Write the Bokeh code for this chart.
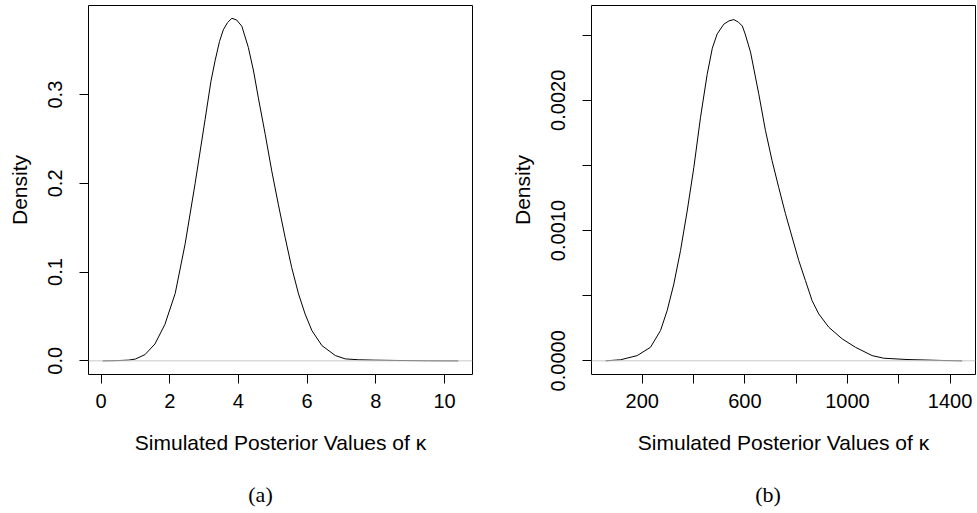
from bokeh.plotting import figure
from bokeh.layouts import row, column
from bokeh.models import Span, FixedTicker, Range1d
from bokeh.core.properties import value
from bokeh.embed import file_html
from bokeh.resources import INLINE

# ---- data ----
kappa_a = [0.05, 0.5, 0.8, 1.0, 1.28, 1.57, 1.86, 2.16, 2.45, 2.74, 3.03, 3.20,
           3.32, 3.45, 3.56, 3.68, 3.81, 3.95, 4.10, 4.29, 4.44, 4.58, 4.78, 4.97,
           5.16, 5.36, 5.55, 5.75, 5.94, 6.14, 6.43, 6.82, 7.11, 7.50, 7.93, 8.61,
           9.5, 10.4]
dens_a = [0.0, 0.0003, 0.0008, 0.002, 0.007, 0.019, 0.041, 0.076, 0.132, 0.200,
          0.272, 0.315, 0.338, 0.360, 0.373, 0.381, 0.386, 0.384, 0.377, 0.353,
          0.3266, 0.2965, 0.2553, 0.214, 0.1766, 0.139, 0.1053, 0.0754, 0.0529,
          0.034, 0.0172, 0.006, 0.0022, 0.0012, 0.0008, 0.0004, 0.0001, 0.0]

kappa_b = [57, 115, 180, 232, 271, 297, 323, 349, 375, 401, 427, 453, 473, 492, 518,
           538, 557, 575, 590, 601, 622, 654, 680, 706, 732, 758, 784, 810, 836, 862,
           888, 927, 979, 1031, 1096, 1141, 1232, 1362, 1447]
dens_b = [0.0, 0.000008, 0.00004, 0.000104, 0.000232, 0.000386, 0.00059, 0.000846,
          0.00115, 0.001485, 0.00187, 0.0022, 0.0024, 0.00251, 0.002585, 0.00261,
          0.00262, 0.0026, 0.00257, 0.00251, 0.00237, 0.00205, 0.00177, 0.001536,
          0.00133, 0.00113, 0.00095, 0.00077, 0.000616, 0.000462, 0.00036, 0.000258,
          0.000169, 0.000104, 0.00004, 0.00002, 0.00001, 0.000003, 0.0]

xticks_a = [0, 2, 4, 6, 8, 10]
xlabels_a = ["0", "2", "4", "6", "8", "10"]
yticks_a = [0.0, 0.1, 0.2, 0.3]
ylabels_a = ["0.0", "0.1", "0.2", "0.3"]

xticks_b = [200, 400, 600, 800, 1000, 1200, 1400]
xlabels_b = ["200", "", "600", "", "1000", "", "1400"]
yticks_b = [0.0, 0.0005, 0.001, 0.0015, 0.002, 0.0025]
ylabels_b = ["0.0000", "", "0.0010", "", "0.0020", ""]

xlabel = "Simulated Posterior Values of κ"
ylabel = "Density"
captions = ["(a)", "(b)"]

FONT = "Liberation Sans"
H_MAIN = 474
H_CAP = 38


def make(kx, dy, xr, yr, xt, xl, yt, yl, width, border_right):
    p = figure(width=width, height=H_MAIN, output_backend="svg", toolbar_location=None,
               x_range=Range1d(*xr), y_range=Range1d(*yr),
               min_border_left=88, min_border_right=border_right,
               min_border_top=5, min_border_bottom=100)
    p.grid.visible = False
    p.outline_line_color = "black"
    p.outline_line_width = 1
    p.background_fill_color = "white"
    p.border_fill_color = "white"

    p.add_layout(Span(location=0, dimension="width", line_color="#c8c8c8", line_width=1))
    p.line(kx, dy, line_color="black", line_width=1)

    for ax in (p.xaxis[0], p.yaxis[0]):
        ax.axis_line_color = None
        ax.major_tick_line_color = "black"
        ax.major_tick_out = 9
        ax.major_tick_in = 0
        ax.minor_tick_line_color = None
        ax.major_label_text_font = FONT
        ax.major_label_text_font_size = "20px"
        ax.major_label_text_color = "black"
        ax.axis_label_text_font = FONT
        ax.axis_label_text_font_size = "21px"
        ax.axis_label_text_font_style = "normal"
        ax.axis_label_text_color = "black"

    p.xaxis.ticker = FixedTicker(ticks=xt)
    p.xaxis.major_label_overrides = {t: l for t, l in zip(xt, xl)}
    p.xaxis.major_label_standoff = 10
    p.xaxis.axis_label = xlabel
    p.xaxis.axis_label_standoff = 20

    p.yaxis.ticker = FixedTicker(ticks=yt)
    p.yaxis.major_label_overrides = {t: l for t, l in zip(yt, yl)}
    p.yaxis.major_label_orientation = "vertical"
    p.yaxis.major_label_standoff = 17
    p.yaxis.axis_label = ylabel
    p.yaxis.axis_label_standoff = 15
    return p


def caption_fig(text, width, cx):
    c = figure(width=width, height=H_CAP, output_backend="svg", toolbar_location=None,
               x_range=Range1d(0, width), y_range=Range1d(0, H_CAP),
               x_axis_type=None, y_axis_type=None,
               min_border=0, min_border_left=0, min_border_right=0,
               min_border_top=0, min_border_bottom=0)
    c.grid.visible = False
    c.outline_line_color = None
    c.background_fill_color = "white"
    c.border_fill_color = "white"
    c.text(x=[cx], y=[H_CAP - 20], text=[text], text_align="center",
           text_baseline="middle", text_font=value("Liberation Serif"),
           text_font_size=value("22px"), text_color="black")
    return c


pa = make(kappa_a, dens_a, (-0.364, 10.814), (-0.0154, 0.4004),
          xticks_a, xlabels_a, yticks_a, ylabels_a, 503, 31)
pb = make(kappa_b, dens_b, (2.0, 1499.0), (-0.000105, 0.002728),
          xticks_b, xlabels_b, yticks_b, ylabels_b, 474, 2)
ca = caption_fig(captions[0], 503, 260)
cb = caption_fig(captions[1], 474, 264.5)

layout = column(row(pa, pb, spacing=0), row(ca, cb, spacing=0), spacing=0)
open("out.html", "w").write(file_html(layout, INLINE))
